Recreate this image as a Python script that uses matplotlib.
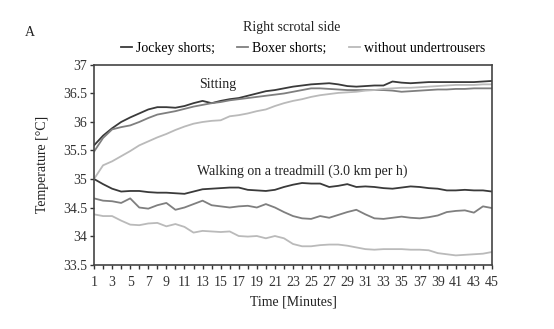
#Scrotal temperature curves - right side
import matplotlib
matplotlib.use('Agg')
import matplotlib.pyplot as plt
import numpy as np

plt.rcParams['font.family'] = ['Liberation Serif', 'DejaVu Serif']

#Time axis (minutes)
minutes = list(range(1, 46))

#Sitting
sit_jockey = [35.59, 35.76, 35.89, 36.00, 36.08, 36.15, 36.22, 36.26, 36.26, 36.25,
              36.28, 36.33, 36.37, 36.33, 36.37, 36.40, 36.42, 36.46, 36.50, 36.54,
              36.56, 36.59, 36.62, 36.64, 36.66, 36.67, 36.68, 36.66, 36.63, 36.62,
              36.63, 36.64, 36.64, 36.71, 36.69, 36.68, 36.69, 36.70, 36.70, 36.70,
              36.70, 36.70, 36.70, 36.71, 36.72]
sit_boxer = [35.48, 35.72, 35.87, 35.91, 35.94, 36.00, 36.07, 36.13, 36.16, 36.19,
             36.23, 36.27, 36.30, 36.33, 36.35, 36.38, 36.40, 36.42, 36.44, 36.46,
             36.48, 36.50, 36.53, 36.56, 36.59, 36.59, 36.58, 36.57, 36.56, 36.56,
             36.56, 36.56, 36.56, 36.55, 36.53, 36.54, 36.55, 36.56, 36.57, 36.57,
             36.58, 36.58, 36.59, 36.59, 36.59]
sit_without = [35.00, 35.24, 35.31, 35.40, 35.49, 35.59, 35.66, 35.73, 35.79, 35.86,
               35.92, 35.97, 36.00, 36.02, 36.03, 36.10, 36.12, 36.15, 36.19, 36.22,
               36.28, 36.33, 36.37, 36.40, 36.44, 36.47, 36.49, 36.51, 36.52, 36.53,
               36.55, 36.56, 36.58, 36.59, 36.60, 36.60, 36.61, 36.62, 36.63, 36.64,
               36.65, 36.65, 36.65, 36.66, 36.66]

#Walking on a treadmill
walk_jockey = [35.00, 34.91, 34.83, 34.78, 34.79, 34.79, 34.77, 34.76, 34.76, 34.75,
               34.74, 34.78, 34.82, 34.83, 34.84, 34.85, 34.85, 34.81, 34.80, 34.79,
               34.81, 34.86, 34.90, 34.93, 34.92, 34.92, 34.86, 34.88, 34.91, 34.86,
               34.87, 34.86, 34.84, 34.83, 34.85, 34.87, 34.86, 34.84, 34.83, 34.80,
               34.80, 34.81, 34.80, 34.80, 34.78]
walk_boxer = [34.66, 34.62, 34.61, 34.58, 34.66, 34.50, 34.48, 34.54, 34.58, 34.46,
              34.50, 34.56, 34.62, 34.54, 34.52, 34.50, 34.52, 34.53, 34.50, 34.56,
              34.50, 34.42, 34.35, 34.31, 34.30, 34.35, 34.32, 34.37, 34.42, 34.46,
              34.38, 34.31, 34.30, 34.32, 34.34, 34.32, 34.31, 34.33, 34.36, 34.42,
              34.44, 34.45, 34.41, 34.52, 34.49]
walk_without = [34.38, 34.35, 34.35, 34.27, 34.20, 34.19, 34.22, 34.23, 34.17, 34.21,
                34.16, 34.06, 34.09, 34.08, 34.07, 34.08, 34.00, 33.99, 34.00, 33.96,
                34.00, 33.96, 33.86, 33.82, 33.82, 33.84, 33.85, 33.85, 33.83, 33.80,
                33.77, 33.76, 33.77, 33.77, 33.77, 33.76, 33.76, 33.75, 33.70, 33.68,
                33.66, 33.67, 33.68, 33.69, 33.72]

labels = ['Jockey shorts;', 'Boxer shorts;', 'without undertrousers']
colors = ['#3a3a3a', '#7f7f7f', '#bababa']

fig = plt.figure(figsize=(5.54, 3.29), dpi=100)
ax = fig.add_axes([0.1697, 0.196, 0.7184, 0.6065])

for sit, walk, lab, col in zip([sit_jockey, sit_boxer, sit_without],
                               [walk_jockey, walk_boxer, walk_without], labels, colors):
    ax.plot(minutes, sit, color=col, lw=1.3, label=lab)
    ax.plot(minutes, walk, color=col, lw=1.3)

ax.set_xlim(1, 45)
ax.set_ylim(33.5, 37)
ax.set_xticks(minutes)
ax.set_xticklabels([str(m) if m % 2 == 1 else '' for m in minutes])
ax.set_yticks([33.5, 34, 34.5, 35, 35.5, 36, 36.5, 37])
ax.set_yticklabels(['33.5', '34', '34.5', '35', '35.5', '36', '36.5', '37'])
ax.tick_params(axis='both', labelsize=10, colors='#333333', length=3, width=1)
ax.tick_params(axis='x', pad=5)
ax.tick_params(axis='y', pad=2)
for s in ax.spines.values():
    s.set_color('#444444')
    s.set_linewidth(1.2)

ax.set_xlabel('Time [Minutes]', fontsize=10, color='#222222', labelpad=5)
ax.set_ylabel('Temperature [°C]', fontsize=10, color='#222222', labelpad=10)

ax.text(14.7, 36.65, 'Sitting', fontsize=10, ha='center', va='center', color='#222222')
ax.text(24, 35.14, 'Walking on a treadmill (3.0 km per h)', fontsize=10,
        ha='center', va='center', color='#222222')

fig.text(0.054, 0.9, 'A', fontsize=10, ha='center', va='center', color='#222222')
fig.text(0.527, 0.915, 'Right scrotal side', fontsize=10, ha='center', va='center', color='#222222')
fig.legend(loc='center', bbox_to_anchor=(0.547, 0.854), ncol=3, frameon=False,
           fontsize=10, handlelength=0.8, handletextpad=0.3, columnspacing=1.6)

plt.savefig('out.png', dpi=100)
